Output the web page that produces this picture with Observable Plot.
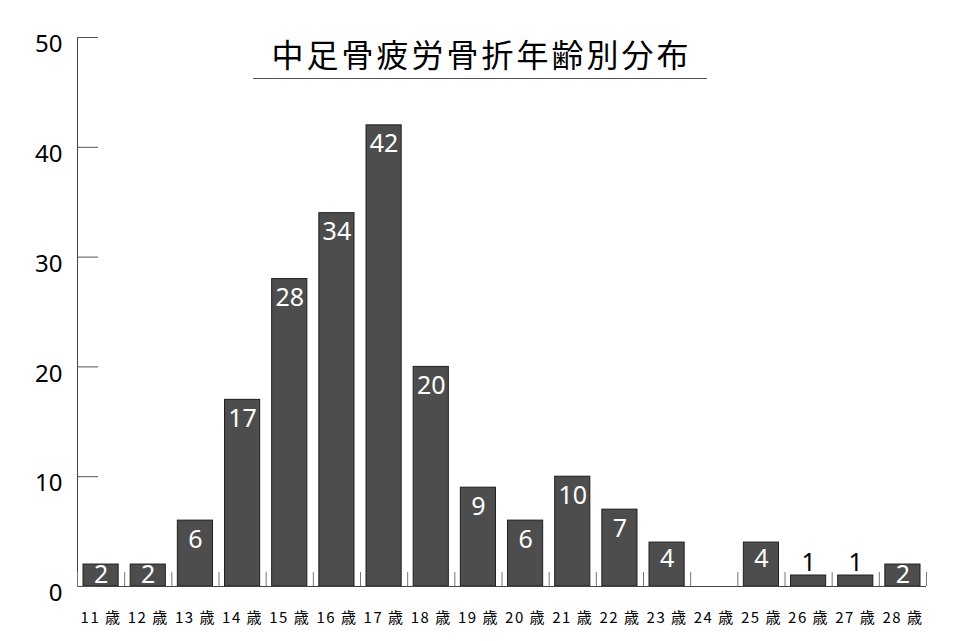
<!DOCTYPE html>
<html>
<head>
<meta charset="utf-8">
<script src="https://cdn.jsdelivr.net/npm/d3@7"></script>
<script src="https://cdn.jsdelivr.net/npm/@observablehq/plot@0.6"></script>
<style>
  html, body { margin: 0; padding: 0; background: #fff; }
  #wrap { position: relative; width: 961px; height: 641px; }
  #title {
    position: absolute; left: 253px; top: 37px; width: 454px;
    text-align: center; font-family: "Noto Sans CJK JP", sans-serif;
    font-size: 32px; line-height: 32px; letter-spacing: 3px; padding-left: 3px; box-sizing: border-box;
    padding-bottom: 9px; border-bottom: 1px solid #555; color: #000;
  }
</style>
</head>
<body>
<div id="wrap"><div id="title"></div></div>
<script>
const title = "中足骨疲労骨折年齢別分布";
const ages = [11, 12, 13, 14, 15, 16, 17, 18, 19, 20, 21, 22, 23, 24, 25, 26, 27, 28];
const ageLabels = ages.map(a => `${a} 歳`);
const counts = [2, 2, 6, 17, 28, 34, 42, 20, 9, 6, 10, 7, 4, 0, 4, 1, 1, 2];
const yTicks = [0, 10, 20, 30, 40, 50];

const rows = counts.map((c, i) => ({i, label: ageLabels[i], count: c}));
const n = counts.length;

const labelMark = (filter, dy, fill) => Plot.text(rows.filter(filter), {
  x: d => d.i + 0.5, y: "count", text: d => String(d.count),
  dy, fill, fontSize: 25
});

const chart = Plot.plot({
  width: 961, height: 641,
  marginLeft: 77, marginRight: 35, marginTop: 37, marginBottom: 55,
  style: {fontFamily: "'Noto Sans', sans-serif", color: "#000", background: "transparent"},
  x: {type: "linear", domain: [0, n], axis: null, label: null},
  y: {domain: [0, 50], axis: null, label: null},
  marks: [
    Plot.rectY(rows.filter(d => d.count > 0), {
      x1: "i", x2: d => d.i + 1, y: "count",
      insetLeft: 6, insetRight: 6, fill: "#4d4d4d", stroke: "#1e1e1e", strokeWidth: 1
    }),
    Plot.ruleX([0], {stroke: "#444"}),
    Plot.ruleY([0], {stroke: "#444"}),
    Plot.axisY({ticks: yTicks, tickSize: -21, tickFormat: () => "", stroke: "#555", label: null}),
    Plot.axisY({ticks: yTicks, tickSize: 0, tickPadding: 15, fontSize: 24, dy: 7, fill: "#000", label: null}),
    Plot.axisX({ticks: d3.range(n + 1), tickSize: -14, tickFormat: () => "", stroke: "#777", label: null}),
    Plot.axisX({ticks: d3.range(n).map(i => i + 0.5), tickSize: 0, tickPadding: 26,
      tickFormat: v => ageLabels[Math.floor(v)], fontSize: 15, fill: "#000", label: null,
      fontFamily: "'Noto Sans CJK JP', sans-serif"}),
    labelMark(d => d.count >= 5, 19, "#fff"),
    labelMark(d => d.count === 4, 16, "#fff"),
    labelMark(d => d.count === 2, 10, "#fff"),
    labelMark(d => d.count === 1, -13, "#000")
  ]
});
document.getElementById("wrap").prepend(chart);
document.getElementById("title").textContent = title;
d3.select(chart).selectAll("text").filter(function() {
  return ageLabels.includes(this.textContent);
}).style("letter-spacing", "1.5px");
chart.style.position = "absolute";
chart.style.left = "0";
chart.style.top = "0";
</script>
</body>
</html>
